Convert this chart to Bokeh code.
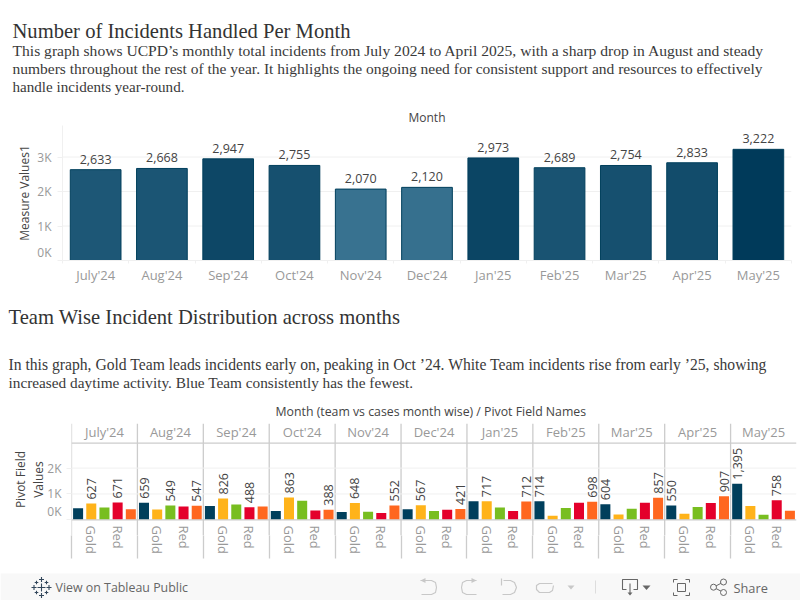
import math
from bokeh.plotting import figure
from bokeh.models import (Range1d, FixedTicker, Label, Span, ColumnDataSource, LinearColorMapper,
                          LinearAxis, Title)
from bokeh.core.properties import value
from bokeh.embed import file_html
from bokeh.resources import INLINE

months = ["July'24", "Aug'24", "Sep'24", "Oct'24", "Nov'24", "Dec'24", "Jan'25", "Feb'25", "Mar'25", "Apr'25", "May'25"]
totals = [2633, 2668, 2947, 2755, 2070, 2120, 2973, 2689, 2754, 2833, 3222]

blue_team = [445, 659, 530, 340, 300, 410, 720, 714, 604, 550, 1395]
gold_team = [627, 395, 826, 863, 648, 567, 717, 160, 200, 236, 530]
green_team = [480, 549, 590, 740, 310, 335, 480, 460, 430, 490, 190]
red_team = [671, 518, 488, 364, 260, 387, 344, 657, 663, 650, 758]
white_team = [410, 547, 513, 388, 552, 421, 712, 698, 857, 907, 349]
team_names = ["Blue", "Gold", "Green", "Red", "White"]
team_values = [blue_team, gold_team, green_team, red_team, white_team]
team_colors = ["#003f5c", "#ffb31a", "#78be20", "#e4002b", "#ff671f"]
# which team indexes carry a value label, per month
labelled = [[1, 3], [0, 2, 4], [1, 3], [1, 4], [1, 4], [1, 4], [1, 4], [0, 4], [0, 4], [0, 4], [0, 3]]

title_1 = "Number of Incidents Handled Per Month"
body_1 = ["This graph shows UCPD\u2019s monthly total incidents from July 2024 to April 2025, with a sharp drop in August and steady",
          "numbers throughout the rest of the year. It highlights the ongoing need for consistent support and resources to effectively",
          "handle incidents year-round."]
title_2 = "Team Wise Incident Distribution across months"
body_2 = ["In this graph, Gold Team leads incidents early on, peaking in Oct \u201924. White Team incidents rise from early \u201925, showing",
          "increased daytime activity. Blue Team consistently has the fewest."]

SANS = "Open Sans"
SERIF = "Liberation Serif"
GREY = "#999999"
DARK = "#444444"
GRID = "#f0f0f0"
PANEL = "#cccccc"
W = 800


def text_fig(top, bottom):
    """A blank strip of the page whose data units are page pixels."""
    p = figure(width=W, height=bottom - top, output_backend="svg", toolbar_location=None,
               x_range=Range1d(0, W), y_range=Range1d(bottom, top), min_border=0)
    p.axis.visible = False
    p.grid.visible = False
    p.outline_line_color = None
    return p


def put(p, x, y, s, size, color="#333333", font=SERIF, align="left"):
    p.add_layout(Label(x=x, y=y, text=s, text_font=font, text_font_size=size, text_color=color,
                       text_align=align, text_baseline="middle"))


# ---- header 1
h1 = text_fig(0, 100)
put(h1, 12, 30, title_1, "20.6px", "#333333")
for y, s, fs in zip((50, 68, 86), body_1, ("15.6px", "15.5px", "15.1px")):
    put(h1, 12, y, s, fs, "#3a3a3a")

# ---- monthly totals
px_per_k_1 = 34.5
p1 = figure(width=W, height=190, output_backend="svg", toolbar_location=None,
            x_range=Range1d(0, 11), y_range=Range1d(0, 135 / px_per_k_1 * 1000),
            min_border_left=62, min_border_right=9, min_border_top=25, min_border_bottom=30)
p1.outline_line_color = None
p1.xaxis.visible = False
p1.yaxis.visible = False
src1 = ColumnDataSource(dict(x=[i + 0.5 for i in range(11)], top=totals, label=[f"{v:,}" for v in totals]))
pal = []
for t in range(32):
    f = t / 31
    a, b = (0x38, 0x72, 0x90), (0x00, 0x3a, 0x5a)
    pal.append("#%02x%02x%02x" % tuple(round(a[k] + (b[k] - a[k]) * f) for k in range(3)))
mapper = LinearColorMapper(palette=pal, low=min(totals), high=max(totals))
p1.vbar(x="x", top="top", bottom=0, width=0.765, source=src1,
        fill_color={"field": "top", "transform": mapper}, line_color="#003f5c", line_width=1)
p1.text(x="x", y="top", text="label", source=src1, text_align="center", text_baseline="bottom", y_offset=-6,
        text_font=value(SANS), text_font_size="12.5px", text_color=DARK)
bx = LinearAxis(ticker=FixedTicker(ticks=[i + 0.5 for i in range(11)], minor_ticks=list(range(12))),
                major_label_overrides={i + 0.5: m for i, m in enumerate(months)},
                major_tick_line_color=None, major_tick_out=0, major_tick_in=0,
                minor_tick_out=3, minor_tick_in=0, minor_tick_line_color=GRID,
                axis_line_color=GRID, major_label_text_color=GREY, major_label_text_font=SANS,
                major_label_text_font_size="13px", major_label_standoff=2)
p1.add_layout(bx, "below")
ZERO_LABEL_1 = 232
ly = LinearAxis(ticker=FixedTicker(ticks=[ZERO_LABEL_1, 1000, 2000, 3000], minor_ticks=[0, 1000, 2000, 3000]),
                major_label_overrides={ZERO_LABEL_1: "0K", 1000: "1K", 2000: "2K", 3000: "3K"},
                major_tick_line_color=None, major_tick_out=0, major_tick_in=0,
                minor_tick_out=5, minor_tick_in=0, minor_tick_line_color=GRID,
                axis_line_color=GRID, major_label_text_color=GREY, major_label_text_font=SANS,
                major_label_text_font_size="12px", major_label_standoff=6,
                axis_label="Measure Values1", axis_label_text_font=SANS, axis_label_text_font_style="normal",
                axis_label_text_font_size="12px", axis_label_text_color=DARK, axis_label_standoff=1)
p1.add_layout(ly, "left")
p1.ygrid.visible = False
p1.xgrid.visible = False
for k in (1000, 2000, 3000):
    p1.add_layout(Span(location=k, dimension="width", line_color=GRID, line_width=1, level="underlay"))
p1.add_layout(Title(text="Month", text_font=SANS, text_font_size="12px", text_font_style="normal",
                    text_color=DARK, align="center", standoff=0), "above")

# ---- header 2
h2 = text_fig(290, 400)
put(h2, 8, 316, title_2, "20.6px", "#333333")
for y, s, fs in zip((364, 382), body_2, ("15.65px", "15.3px")):
    put(h2, 8, y, s, fs, "#3a3a3a")

# ---- team chart
px_per_k_2 = 26.3
n_team = len(team_names)
p2 = figure(width=W, height=165, output_backend="svg", toolbar_location=None,
            x_range=Range1d(0, n_team * len(months)),
            y_range=Range1d(-16 / px_per_k_2 * 1000, 98 / px_per_k_2 * 1000),
            min_border_left=71, min_border_right=4, min_border_top=21, min_border_bottom=30)
p2.outline_line_color = None
p2.xaxis.visible = False
p2.yaxis.visible = False
xs, tops, cols, lx, ly2, lt = [], [], [], [], [], []
for m in range(len(months)):
    for t in range(n_team):
        x = m * n_team + t + 0.5
        xs.append(x)
        tops.append(team_values[t][m])
        cols.append(team_colors[t])
        if t in labelled[m]:
            lx.append(x)
            ly2.append(team_values[t][m])
            lt.append(f"{team_values[t][m]:,}")
p2.vbar(x=xs, top=tops, bottom=0, width=0.76, fill_color=cols, line_color=None)
p2.text(x=lx, y=ly2, text=lt, angle=math.pi / 2, text_align="left", text_baseline="middle", y_offset=-4,
        text_font=value(SANS), text_font_size="12.5px", text_color=DARK)
p2.xgrid.visible = False
p2.ygrid.visible = False
panel_edges = [k * n_team for k in range(len(months))]
for e in panel_edges:
    p2.add_layout(Span(location=e, dimension="height", line_color=PANEL, line_width=1.3, level="underlay"))
for k in (1000, 2000):
    p2.add_layout(Span(location=k, dimension="width", line_color=GRID, line_width=1, level="underlay"))
p2.add_layout(Span(location=0, dimension="width", line_color=PANEL, line_width=1.3))
p2.add_layout(Span(location=78 / px_per_k_2 * 1000, dimension="width", line_color=PANEL, line_width=1.3))

top_ax = LinearAxis(ticker=FixedTicker(ticks=[(m + 0.5) * n_team for m in range(len(months))]),
                    major_label_overrides={(m + 0.5) * n_team: s for m, s in enumerate(months)},
                    major_tick_line_color=None, major_tick_out=0, major_tick_in=0,
                    minor_tick_line_color=None, axis_line_color=None,
                    major_label_text_color=GREY, major_label_text_font=SANS, major_label_text_font_size="13px",
                    major_label_standoff=-17)
p2.add_layout(top_ax, "above")
team_ticks = {}
for m in range(len(months)):
    team_ticks[m * n_team + 1.5] = "Gold"
    team_ticks[m * n_team + 3.5] = "Red"
low_ax = LinearAxis(ticker=FixedTicker(ticks=sorted(team_ticks), minor_ticks=panel_edges),
                    major_label_overrides=team_ticks,
                    major_tick_line_color=None, major_tick_out=0, major_tick_in=0,
                    minor_tick_line_color=PANEL, minor_tick_line_width=1.3, minor_tick_out=23, minor_tick_in=0,
                    axis_line_color=None,
                    major_label_text_color=GREY, major_label_text_font=SANS, major_label_text_font_size="13px",
                    major_label_orientation="vertical", major_label_standoff=-33)
p2.add_layout(low_ax, "below")
ZERO_LABEL_2 = 304
left2 = LinearAxis(ticker=FixedTicker(ticks=[ZERO_LABEL_2, 1000, 2000], minor_ticks=[0, 1000, 2000]),
                   major_label_overrides={ZERO_LABEL_2: "0K", 1000: "1K", 2000: "2K"},
                   major_tick_line_color=None, major_tick_out=0, major_tick_in=0,
                   minor_tick_out=5, minor_tick_in=0, minor_tick_line_color=GRID,
                   axis_line_color=None, major_label_text_color=GREY,
                   major_label_text_font=SANS, major_label_text_font_size="12px", major_label_standoff=5,
                   axis_label="Pivot Field\nValues", axis_label_text_font=SANS, axis_label_text_font_style="normal",
                   axis_label_text_font_size="12px", axis_label_text_color=DARK, axis_label_standoff=-3,
                   axis_label_text_line_height=1.05)
p2.add_layout(left2, "left")
p2.add_layout(Title(text="Month (team vs cases month wise)  /  Pivot Field Names", text_font=SANS,
                    text_font_size="12.3px", text_font_style="normal", text_color=DARK, align="center",
                    standoff=0), "above")

# ---- footer
foot = text_fig(565, 600)
foot.quad(left=0, right=800, top=573, bottom=600, fill_color="#f8f8f8", line_color=None)
put(foot, 55, 587, "View on Tableau Public", "12.4px", "#666666", SANS)
put(foot, 733, 587, "Share", "12.8px", "#666666", SANS)
ic = "#c8c8c8"
ic2 = "#666666"
for cx, cy, r in [(41, 587, 4), (41, 579, 2.5), (41, 595, 2.5), (33.5, 587, 2.5), (48.5, 587, 2.5),
                  (36, 582, 1.8), (46, 582, 1.8), (36, 592, 1.8), (46, 592, 1.8)]:
    foot.segment(x0=[cx - r, cx], y0=[cy, cy - r], x1=[cx + r, cx], y1=[cy, cy + r], line_color="#33475b", line_width=1.1)
foot.line([420, 431, 435, 436, 435, 431, 421], [580, 580, 582, 587, 592, 594, 594], line_color=ic, line_width=1.2)
foot.patch([420, 425, 425], [580, 577.5, 582.5], fill_color=ic, line_color=None)
foot.line([476, 466, 462, 461, 462, 466, 476], [580, 580, 582, 587, 592, 594, 594], line_color=ic, line_width=1.2)
foot.patch([476, 471, 471], [580, 577.5, 582.5], fill_color=ic, line_color=None)
foot.line([501, 501], [578, 585], line_color=ic, line_width=1.2)
foot.line([503, 510, 514, 516, 514, 510, 502], [580, 580, 582, 587, 592, 594, 594], line_color=ic, line_width=1.2)
foot.line([552, 539, 536, 536, 539, 549, 552, 553], [583, 583, 585, 589, 592, 592, 590, 585], line_color=ic, line_width=1.2)
foot.patch([567, 574, 570.5], [585, 585, 589], fill_color=ic, line_color=None)
foot.segment(x0=[595], y0=[580], x1=[595], y1=[593], line_color="#dddddd", line_width=1)
foot.line([626, 622, 622, 637, 637, 633], [589, 589, 579, 579, 589, 589], line_color=ic2, line_width=1.1)
foot.line([629.5, 629.5], [583, 593], line_color=ic2, line_width=1.1)
foot.patch([627, 632, 629.5], [592, 592, 595], fill_color=ic2, line_color=None)
foot.patch([642, 650, 646], [585, 585, 589.5], fill_color=ic2, line_color=None)
foot.line([677, 685, 685, 677, 677], [583, 583, 591, 591, 583], line_color=ic2, line_width=1)
for (a, b, c) in [((673, 582), (673, 579), (677, 579)), ((685, 579), (689, 579), (689, 582)),
                  ((689, 592), (689, 595), (685, 595)), ((677, 595), (673, 595), (673, 592))]:
    foot.line([a[0], b[0], c[0]], [a[1], b[1], c[1]], line_color=ic2, line_width=1)
foot.line([723, 713, 723], [581.5, 586.7, 592], line_color=ic2, line_width=1)
foot.scatter([723, 713, 723], [581.5, 586.7, 592], size=6, fill_color="#f8f8f8", line_color=ic2, marker="circle")

open("out.html", "w").write(file_html([h1, p1, h2, p2, foot], INLINE))
